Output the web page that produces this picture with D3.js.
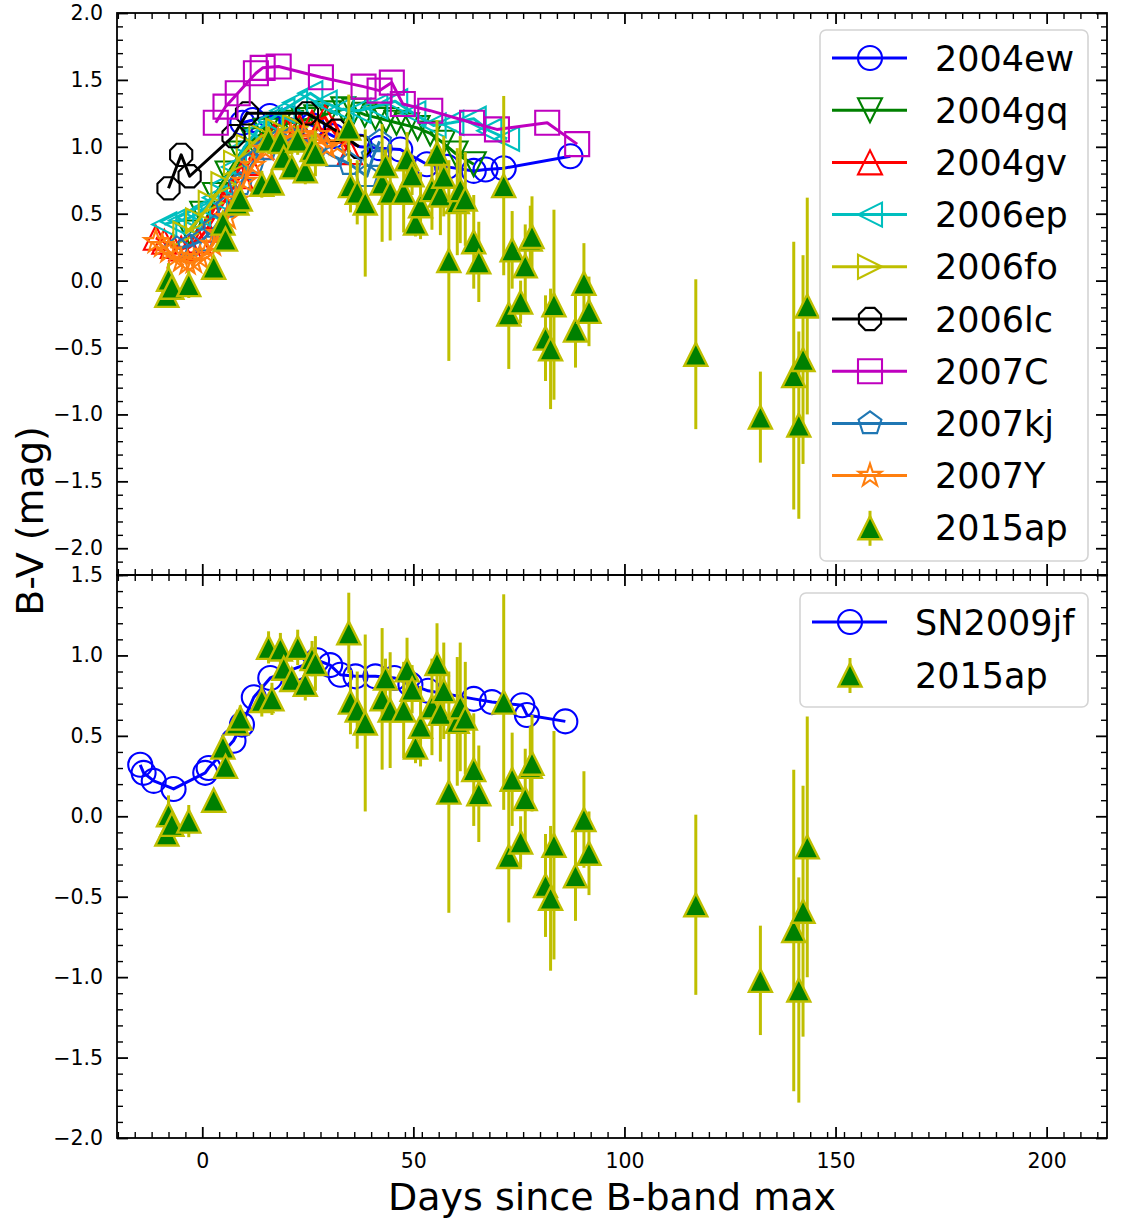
<!DOCTYPE html>
<html>
<head>
<meta charset="utf-8">
<script src="https://cdn.jsdelivr.net/npm/d3@7"></script>
<style>
  html, body { margin: 0; padding: 0; background: #ffffff; }
  svg { display: block; font-family: "DejaVu Sans", sans-serif; }
</style>
</head>
<body>
<svg id="chart" width="1130" height="1223"></svg>
<script>
// ---- B-V colour curves (days since B-band maximum, B-V in mag) ----
const days_2004ew = [9.5, 12, 16, 21, 26, 31, 37.4, 42, 46.9, 53.2, 58, 64.3, 67.1, 71.4, 87.2];
const bv_2004ew   = [1.18, 1.20, 1.23, 1.21, 1.16, 1.08, 1.00, 0.99, 0.98, 0.87, 0.85, 0.82, 0.83, 0.84, 0.93];

const days_2004gq = [-3, 0, 3, 6, 9, 12, 15, 18, 21, 24, 27, 30, 33.4, 36, 38.5, 41, 43.5, 46, 48.5, 51, 54, 57, 60, 64.3];
const bv_2004gq   = [0.36, 0.50, 0.64, 0.80, 0.95, 1.05, 1.12, 1.16, 1.18, 1.20, 1.22, 1.25, 1.28, 1.27, 1.24, 1.22, 1.20, 1.18, 1.16, 1.14, 1.10, 1.03, 0.95, 0.87];

const days_2004gv = [-11, -9, -7, -5, -3, -1, 1, 3, 5, 7, 9, 11, 14, 17, 20, 23, 26, 29.1, 31, 35];
const bv_2004gv   = [0.32, 0.29, 0.26, 0.24, 0.25, 0.30, 0.38, 0.48, 0.58, 0.68, 0.78, 0.88, 1.00, 1.08, 1.12, 1.15, 1.18, 1.22, 1.12, 0.96];

const days_2006ep = [-9, -7, -5, -3, -1, 1, 3, 5, 7.5, 10, 13, 16, 19, 22, 25.6, 29, 33, 37, 41, 45.7, 50, 54.8, 59, 64.3, 68, 72.2];
const bv_2006ep   = [0.42, 0.44, 0.45, 0.47, 0.50, 0.55, 0.62, 0.72, 0.85, 1.00, 1.12, 1.20, 1.27, 1.33, 1.40, 1.33, 1.28, 1.27, 1.30, 1.34, 1.25, 1.16, 1.18, 1.21, 1.12, 1.06];

const days_2006fo = [-4, -1, 2, 5, 8, 11, 14, 18, 22];
const bv_2006fo   = [0.35, 0.45, 0.58, 0.72, 0.88, 1.00, 1.08, 1.12, 1.15];

const days_2006lc = [-8, -5, -3, 7.4, 10.6, 24.8, 31.7, 37.1];
const bv_2006lc   = [0.69, 0.94, 0.78, 1.08, 1.25, 1.25, 1.12, 1.00];

const days_2007C = [3.2, 5.5, 8.4, 12.7, 14.3, 18.1, 28.1, 38.2, 42.0, 44.9, 47.5, 54.0, 63.9, 69.8, 81.7, 88.8];
const bv_2007C   = [1.18, 1.30, 1.40, 1.55, 1.59, 1.60, 1.52, 1.45, 1.42, 1.48, 1.32, 1.27, 1.18, 1.13, 1.18, 1.02];

const days_2007kj = [-6, -3, 0, 3, 6, 9, 12, 15, 18, 21, 24, 27, 31, 35, 39, 40.5, 42];
const bv_2007kj   = [0.24, 0.26, 0.30, 0.40, 0.55, 0.72, 0.88, 0.98, 1.04, 1.06, 1.05, 1.01, 0.93, 0.87, 0.78, 0.93, 1.04];

const days_2007Y = [-11, -9.5, -8, -6.5, -5, -3.5, -2, -0.5, 1, 2.5, 4, 6, 8, 10, 12, 15, 18, 21, 24, 27.2, 29.5, 32];
const bv_2007Y   = [0.29, 0.26, 0.22, 0.18, 0.15, 0.13, 0.14, 0.17, 0.21, 0.27, 0.35, 0.47, 0.60, 0.74, 0.86, 0.98, 1.05, 1.08, 1.08, 1.09, 1.00, 1.02];

const days_2009jf = [-14.7, -13.9, -11.5, -6.8, 0.7, 1.5, 7.4, 9.4, 12.2, 16.1, 22.0, 27.2, 30.3, 32.7, 36.3, 41.0, 45.5, 49.3, 53.5, 64.3, 68.6, 75.8, 76.9, 86.0];
const bv_2009jf   = [0.32, 0.27, 0.22, 0.17, 0.27, 0.30, 0.47, 0.57, 0.74, 0.86, 0.92, 0.97, 0.94, 0.88, 0.87, 0.87, 0.86, 0.82, 0.78, 0.73, 0.71, 0.69, 0.63, 0.59];

const days_2015ap = [-8.4, -8.0, -7.2, -3.2, 2.7, 4.9, 5.5, 8.2, 9.0, 14.1, 15.7, 16.5, 18.5, 19.3, 21.2, 22.6, 24.4, 26.0, 26.8,
                     34.7, 35.1, 36.7, 38.6, 42.6, 43.4, 44.5, 47.7, 48.5, 49.7, 50.5, 51.7, 54.4, 55.6, 56.4, 57.2, 58.4,
                     60.4, 61.1, 62.3, 64.3, 65.5, 71.4, 72.6, 73.4, 75.4, 76.5, 77.7, 78.1, 81.3, 82.5, 83.3, 88.4, 90.4, 91.6,
                     116.9, 132.2, 140.1, 141.3, 142.3, 143.3];
const bv_2015ap   = [-0.11, 0.01, -0.05, -0.03, 0.10, 0.43, 0.31, 0.58, 0.61, 0.72, 1.05, 0.73, 1.04, 0.92, 0.85, 1.05, 0.82, 0.98, 0.95,
                     1.14, 0.71, 0.66, 0.58, 0.73, 0.86, 0.66, 0.66, 0.91, 0.79, 0.43, 0.56, 0.68, 0.95, 0.64, 0.78, 0.15,
                     0.59, 0.68, 0.61, 0.29, 0.14, 0.71, -0.25, 0.23, -0.16, 0.11, 0.31, 0.33, -0.43, -0.51, -0.18, -0.37, -0.02, -0.23,
                     -0.55, -1.02, -0.71, -1.08, -0.59, -0.19];
const err_2015ap  = [0.03, 0.12, 0.05, 0.10, 0.03, 0.04, 0.04, 0.05, 0.08, 0.10, 0.10, 0.10, 0.10, 0.10, 0.07, 0.11, 0.10, 0.11, 0.17,
                     0.25, 0.20, 0.24, 0.55, 0.44, 0.12, 0.36, 0.30, 0.20, 0.15, 0.10, 0.25, 0.30, 0.25, 0.30, 0.30, 0.75,
                     0.40, 0.40, 0.35, 0.35, 0.30, 0.67, 0.41, 0.29, 0.16, 0.31, 0.25, 0.30, 0.32, 0.45, 0.71, 0.28, 0.30, 0.26,
                     0.56, 0.34, 1.00, 0.70, 0.78, 0.81];

// axis ticks
const xMajorTicks = [0, 50, 100, 150, 200];
const yTopMajorTicks = [-2.0, -1.5, -1.0, -0.5, 0.0, 0.5, 1.0, 1.5, 2.0];
const yBotMajorTicks = [-2.0, -1.5, -1.0, -0.5, 0.0, 0.5, 1.0, 1.5];

// ---- styles ----
const style = {
  "2004ew": { color: "#0000ff", marker: "o" },
  "2004gq": { color: "#008000", marker: "v" },
  "2004gv": { color: "#ff0000", marker: "^" },
  "2006ep": { color: "#00bfbf", marker: "<" },
  "2006fo": { color: "#bfbf00", marker: ">" },
  "2006lc": { color: "#000000", marker: "8" },
  "2007C":  { color: "#bf00bf", marker: "s" },
  "2007kj": { color: "#1f77b4", marker: "p" },
  "2007Y":  { color: "#ff7f0e", marker: "*" },
  "SN2009jf": { color: "#0000ff", marker: "o" }
};
const apFace = "#008000", apEdge = "#bfbf00";
const MS = 24;       // marker size (px)
const TRI = 23;      // 2015ap marker size
const LW = 3;        // connecting line width

const comparisons = [
  { name: "2004ew", days: days_2004ew, bv: bv_2004ew },
  { name: "2004gq", days: days_2004gq, bv: bv_2004gq },
  { name: "2004gv", days: days_2004gv, bv: bv_2004gv },
  { name: "2006ep", days: days_2006ep, bv: bv_2006ep },
  { name: "2006fo", days: days_2006fo, bv: bv_2006fo },
  { name: "2006lc", days: days_2006lc, bv: bv_2006lc },
  { name: "2007C",  days: days_2007C,  bv: bv_2007C },
  { name: "2007kj", days: days_2007kj, bv: bv_2007kj },
  { name: "2007Y",  days: days_2007Y,  bv: bv_2007Y }
];
const sn2015ap = days_2015ap.map((d, i) => ({ d, v: bv_2015ap[i], e: err_2015ap[i] }));

// ---- marker shapes ----
function poly(pts) { return "M" + pts.map(p => p[0].toFixed(2) + "," + p[1].toFixed(2)).join("L") + "Z"; }
function regular(n, r, startDeg) {
  const pts = [];
  for (let k = 0; k < n; k++) {
    const a = (startDeg + k * 360 / n) * Math.PI / 180;
    pts.push([r * Math.cos(a), -r * Math.sin(a)]);
  }
  return pts;
}
function markerPath(type, s) {
  const h = s / 2;
  switch (type) {
    case "o": return `M${h},0A${h},${h} 0 1,1 ${-h},0A${h},${h} 0 1,1 ${h},0Z`;
    case "^": return poly([[0, -h], [-h, h], [h, h]]);
    case "v": return poly([[0, h], [-h, -h], [h, -h]]);
    case "<": return poly([[-h, 0], [h, -h], [h, h]]);
    case ">": return poly([[h, 0], [-h, -h], [-h, h]]);
    case "s": return poly([[-h, -h], [h, -h], [h, h], [-h, h]]);
    case "8": return poly(regular(8, h, 90 + 22.5));
    case "p": return poly(regular(5, h, 90));
    case "*": {
      const pts = [];
      for (let k = 0; k < 10; k++) {
        const r = k % 2 === 0 ? h : h * 0.381966;
        const a = (90 + k * 36) * Math.PI / 180;
        pts.push([r * Math.cos(a), -r * Math.sin(a)]);
      }
      return poly(pts);
    }
  }
}

// ---- layout ----
const svg = d3.select("#chart");
const plotL = 117, plotR = 1107, plotT = 13, plotMid = 575, plotB = 1138;

const x = d3.scaleLinear().domain([-20.2, 214.3]).range([plotL, plotR]);
const yTop = d3.scaleLinear().domain([-2.2, 2.0]).range([plotMid, plotT]);
const yBot = d3.scaleLinear().domain([-2.0, 1.5]).range([plotB, plotMid]);

const defs = svg.append("defs");
defs.append("clipPath").attr("id", "clipTop").append("rect")
  .attr("x", plotL).attr("y", plotT).attr("width", plotR - plotL).attr("height", plotMid - plotT);
defs.append("clipPath").attr("id", "clipBot").append("rect")
  .attr("x", plotL).attr("y", plotMid).attr("width", plotR - plotL).attr("height", plotB - plotMid);

function range(a, b, step) {
  const out = [];
  for (let v = a; v <= b + 1e-9; v += step) out.push(+v.toFixed(6));
  return out;
}
const xMinor = range(-20, 212, 4).filter(v => !xMajorTicks.includes(v));

function drawAxes(y, y0, y1, yMajor, showX) {
  const yMinor = range(Math.ceil(y.domain()[0] * 10) / 10, y.domain()[1], 0.1)
    .filter(v => !yMajor.some(m => Math.abs(m - v) < 1e-6));
  const fmt = d3.format(".1f");
  const g = svg.append("g");

  g.append("g").attr("transform", `translate(${plotL},0)`)
    .call(d3.axisLeft(y).tickValues(yMajor).tickFormat(fmt).tickSizeInner(-11).tickSizeOuter(0).tickPadding(14));
  g.append("g").attr("class", "minor").attr("transform", `translate(${plotL},0)`)
    .call(d3.axisLeft(y).tickValues(yMinor).tickFormat("").tickSizeInner(-6).tickSizeOuter(0));
  g.append("g").attr("transform", `translate(${plotR},0)`)
    .call(d3.axisRight(y).tickValues(yMajor).tickFormat("").tickSizeInner(-11).tickSizeOuter(0));
  g.append("g").attr("class", "minor").attr("transform", `translate(${plotR},0)`)
    .call(d3.axisRight(y).tickValues(yMinor).tickFormat("").tickSizeInner(-6).tickSizeOuter(0));

  const axB = g.append("g").attr("transform", `translate(0,${y0})`)
    .call(d3.axisBottom(x).tickValues(xMajorTicks).tickFormat(showX ? d3.format("d") : "").tickSizeInner(-11).tickSizeOuter(0).tickPadding(14));
  g.append("g").attr("class", "minor").attr("transform", `translate(0,${y0})`)
    .call(d3.axisBottom(x).tickValues(xMinor).tickFormat("").tickSizeInner(-6).tickSizeOuter(0));
  g.append("g").attr("transform", `translate(0,${y1})`)
    .call(d3.axisTop(x).tickValues(xMajorTicks).tickFormat("").tickSizeInner(-11).tickSizeOuter(0));
  g.append("g").attr("class", "minor").attr("transform", `translate(0,${y1})`)
    .call(d3.axisTop(x).tickValues(xMinor).tickFormat("").tickSizeInner(-6).tickSizeOuter(0));

  g.selectAll(".domain").remove();
  g.selectAll(".tick line").attr("stroke", "#000").attr("stroke-width", 1.8);
  g.selectAll(".minor .tick line").attr("stroke-width", 1.4);
  g.selectAll(".tick text").attr("font-size", 20.5).attr("font-family", "DejaVu Sans").attr("fill", "#000");
  axB.selectAll(".tick text").attr("dy", "0.78em");

  g.append("rect").attr("x", plotL).attr("y", y1).attr("width", plotR - plotL).attr("height", y0 - y1)
    .attr("fill", "none").attr("stroke", "#000").attr("stroke-width", 1.8);
}

function drawSeries(g, y, s) {
  const st = style[s.name];
  const pts = s.days.map((d, i) => [x(d), y(s.bv[i])]);
  g.append("path").attr("d", d3.line()(pts)).attr("fill", "none")
    .attr("stroke", st.color).attr("stroke-width", LW).attr("stroke-linejoin", "round");
  g.selectAll(null).data(pts).join("path")
    .attr("transform", p => `translate(${p[0]},${p[1]})`)
    .attr("d", markerPath(st.marker, MS))
    .attr("fill", "none").attr("stroke", st.color).attr("stroke-width", 2.1).attr("stroke-linejoin", "miter");
}

function draw2015ap(g, y) {
  g.selectAll(null).data(sn2015ap).join("line")
    .attr("x1", p => x(p.d)).attr("x2", p => x(p.d))
    .attr("y1", p => y(p.v + p.e)).attr("y2", p => y(p.v - p.e))
    .attr("stroke", apEdge).attr("stroke-width", 3);
  g.selectAll(null).data(sn2015ap).join("path")
    .attr("transform", p => `translate(${x(p.d)},${y(p.v)})`)
    .attr("d", markerPath("^", TRI))
    .attr("fill", apFace).attr("stroke", apEdge).attr("stroke-width", 2.4);
}

// ---- top panel ----
const gTop = svg.append("g").attr("clip-path", "url(#clipTop)");
comparisons.forEach(s => drawSeries(gTop, yTop, s));
draw2015ap(gTop, yTop);
drawAxes(yTop, plotMid, plotT, yTopMajorTicks, false);

// ---- bottom panel ----
const gBot = svg.append("g").attr("clip-path", "url(#clipBot)");
drawSeries(gBot, yBot, { name: "SN2009jf", days: days_2009jf, bv: bv_2009jf });
draw2015ap(gBot, yBot);
drawAxes(yBot, plotB, plotMid, yBotMajorTicks, true);

// ---- legends ----
function legend(x0, y0, w, h, entries, firstY, step, lineX0) {
  const g = svg.append("g");
  g.append("rect").attr("x", x0).attr("y", y0).attr("width", w).attr("height", h)
    .attr("rx", 6).attr("fill", "#ffffff").attr("fill-opacity", 0.85)
    .attr("stroke", "#d4d4d4").attr("stroke-width", 1.6);
  entries.forEach((name, i) => {
    const cy = firstY + i * step;
    const mx = lineX0 + 38;
    if (name === "2015ap") {
      g.append("line").attr("x1", mx).attr("x2", mx).attr("y1", cy - 17).attr("y2", cy + 18)
        .attr("stroke", apEdge).attr("stroke-width", 3);
      g.append("path").attr("transform", `translate(${mx},${cy})`).attr("d", markerPath("^", TRI))
        .attr("fill", apFace).attr("stroke", apEdge).attr("stroke-width", 2.4);
    } else {
      const st = style[name];
      g.append("line").attr("x1", lineX0).attr("x2", lineX0 + 75).attr("y1", cy).attr("y2", cy)
        .attr("stroke", st.color).attr("stroke-width", LW);
      g.append("path").attr("transform", `translate(${mx},${cy})`).attr("d", markerPath(st.marker, MS))
        .attr("fill", "none").attr("stroke", st.color).attr("stroke-width", 2.1);
    }
    g.append("text").attr("x", lineX0 + 103).attr("y", cy).attr("dy", "0.36em")
      .attr("font-size", 35).attr("font-family", "DejaVu Sans").attr("fill", "#000").text(name);
  });
}
legend(820, 30, 268, 531,
  ["2004ew", "2004gq", "2004gv", "2006ep", "2006fo", "2006lc", "2007C", "2007kj", "2007Y", "2015ap"],
  58, 52.2, 832);
legend(800, 593, 288, 114, ["SN2009jf", "2015ap"], 622, 53, 812);

// ---- axis titles ----
svg.append("text").attr("x", (plotL + plotR) / 2).attr("y", 1210).attr("text-anchor", "middle")
  .attr("font-size", 38).attr("font-family", "DejaVu Sans").text("Days since B-band max");
svg.append("text").attr("transform", "translate(43,521) rotate(-90)").attr("text-anchor", "middle")
  .attr("font-size", 38).attr("font-family", "DejaVu Sans").text("B-V (mag)");
</script>
</body>
</html>
